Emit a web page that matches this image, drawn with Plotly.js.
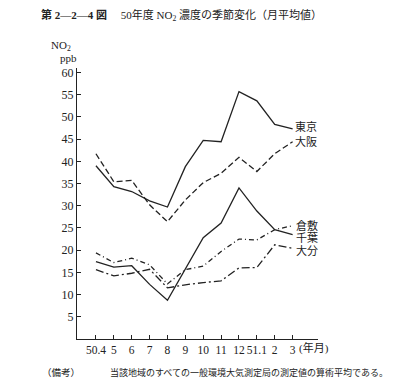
<!DOCTYPE html>
<html>
<head>
<meta charset="utf-8">
<script src="https://cdn.plot.ly/plotly-3.0.1.min.js"></script>
<style>html,body{margin:0;padding:0;background:#fff;}#chart{width:402px;height:389px;}</style>
</head>
<body>
<div id="chart"></div>
<script>
// ---- data ----
const months = ["50.4","5","6","7","8","9","10","11","12","51.1","2","3"];
const tokyo   = [39.0, 34.3, 33.2, 31.1, 29.7, 38.8, 44.7, 44.4, 55.7, 53.6, 48.3, 47.3];
const osaka   = [41.7, 35.4, 35.7, 30.2, 26.4, 31.3, 35.2, 37.3, 40.9, 37.7, 41.7, 44.4];
const kurashiki = [19.4, 17.2, 18.2, 16.7, 12.4, 15.6, 16.4, 19.7, 22.5, 22.3, 24.6, 25.5];
const chiba   = [17.4, 16.2, 16.5, 12.3, 8.7, 15.8, 22.8, 26.1, 34.0, 28.8, 24.6, 23.5];
const oita    = [15.6, 14.2, 14.8, 15.7, 11.5, 12.2, 12.7, 13.1, 16.0, 16.1, 21.2, 20.4];
const seriesNames = ["東京","大阪","倉敷","千葉","大分"];
const yTicks = [5,10,15,20,25,30,35,40,45,50,55,60];

// ---- layout helpers ----
const W = 402, H = 389, L = 77, R = 84, T = 68, B = 50;
const PW = W - L - R, PH = H - T - B;
const px = v => (v - L) / PW;
const py = v => (H - B - v) / PH;
const idx = months.map((m, i) => i);
const ink = "#222";
const cjk = "Liberation Serif, Noto Sans CJK JP, sans-serif";

function tr(y, dash, name) {
  return {x: idx, y: y, type: "scatter", mode: "lines", name: name,
    line: {color: ink, width: 1.3, dash: dash}, showlegend: false, hoverinfo: "skip"};
}
const data = [
  tr(tokyo, "solid", seriesNames[0]),
  tr(osaka, "6px,3px", seriesNames[1]),
  tr(kurashiki, "5px,3px,1px,3px", seriesNames[2]),
  tr(chiba, "solid", seriesNames[3]),
  tr(oita, "8px,3px,2px,3px", seriesNames[4])
];

function lab(text, x, y, size, anchor) {
  return {text: text, xref: "paper", yref: "paper", x: px(x), y: py(y),
    xanchor: anchor || "left", yanchor: "middle", showarrow: false,
    font: {family: cjk, size: size || 11, color: ink}};
}
const annotations = [
  lab("NO<sub>2</sub>", 61, 46, 11, "center"),
  lab("ppb", 68, 58, 11, "center"),
  lab(seriesNames[0], 293, 127, 11),
  lab(seriesNames[1], 293, 141, 11),
  lab(seriesNames[2], 294, 225.5, 11),
  lab(seriesNames[3], 294, 237, 11),
  lab(seriesNames[4], 294, 250.5, 11),
  lab("(年月)", 297, 348, 11),
  lab("（備考）", 40, 372, 9.5),
  lab("当該地域のすべての一般環境大気測定局の測定値の算術平均である。", 108, 372, 9)
];

const layout = {
  width: W, height: H,
  margin: {l: L, r: R, t: T, b: B, pad: 0},
  paper_bgcolor: "#fff", plot_bgcolor: "#fff",
  title: {text: "<b>第 2—2—4 図</b>\u3000 50年度 NO<sub>2</sub> 濃度の季節変化（月平均値）",
    x: 41 / W, xanchor: "left", xref: "container",
    y: 1 - 15 / H, yanchor: "middle", yref: "container",
    font: {family: cjk, size: 11, color: ink}},
  xaxis: {range: [-1.06, 12.42], tickmode: "array", tickvals: idx, ticktext: months,
    tickangle: 0, automargin: false,
    showgrid: false, zeroline: false, showline: true, linecolor: ink, linewidth: 1.2,
    ticks: "inside", ticklen: 4, tickcolor: ink, tickwidth: 1,
    tickfont: {family: "Liberation Serif", size: 11.5, color: ink}, fixedrange: true},
  yaxis: {range: [0, 61], tickmode: "array", tickvals: yTicks, automargin: false,
    showgrid: false, zeroline: false, showline: true, linecolor: ink, linewidth: 1.2,
    ticks: "inside", ticklen: 4, tickcolor: ink, tickwidth: 1,
    tickfont: {family: "Liberation Serif", size: 12, color: ink}, fixedrange: true},
  annotations: annotations,
  showlegend: false
};
Plotly.newPlot("chart", data, layout, {displayModeBar: false, staticPlot: true});
</script>
</body>
</html>
